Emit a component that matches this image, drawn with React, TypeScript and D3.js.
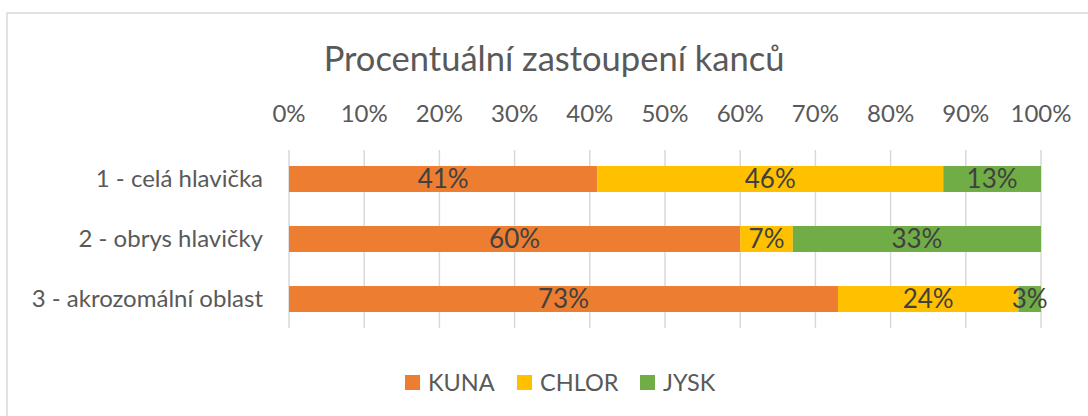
import React from 'react';
import * as d3 from 'd3';

const categories = ['1 - celá hlavička', '2 - obrys hlavičky', '3 - akrozomální oblast'];
const seriesNames = ['KUNA', 'CHLOR', 'JYSK'];
const kuna = [41, 60, 73];
const chlor = [46, 7, 24];
const jysk = [13, 33, 3];
const tickValues = [0, 10, 20, 30, 40, 50, 60, 70, 80, 90, 100];
const colors = ['#ED7D31', '#FFC000', '#70AD47'];

const W = 1088;
const H = 416;
const FONT = 'Lato, "Open Sans", sans-serif';

export default function App() {
  const x = d3.scaleLinear().domain([0, 100]).range([289, 1041]);
  const y = d3.scaleBand().domain(categories).range([149, 329]).paddingInner(0.567).paddingOuter(0.283);

  const rows = categories.map((c, i) => ({ cat: c, KUNA: kuna[i], CHLOR: chlor[i], JYSK: jysk[i] }));
  const stacked = d3.stack<any>().keys(seriesNames)(rows);

  const legendX = [405, 517, 640];

  return (
    <svg width={W} height={H} style={{ position: 'absolute', left: 0, top: 0, background: '#fff' }} fontFamily={FONT}>
      <rect x={7} y={13} width={W + 10} height={H + 10} fill="#fff" stroke="#d9d9d9" strokeWidth={1.5} />
      <text x={554} y={71} textAnchor="middle" fontSize={34.5} fill="#595959">Procentuální zastoupení kanců</text>

      {tickValues.map(t => (
        <g key={t}>
          <line x1={x(t)} x2={x(t)} y1={150} y2={328} stroke="#d9d9d9" strokeWidth={1.5} />
          <text x={x(t)} y={122} textAnchor="middle" fontSize={24} fill="#595959">{t}%</text>
        </g>
      ))}

      {categories.map(c => (
        <text key={c} x={263} y={y(c)! + y.bandwidth() / 2} dy="0.35em" textAnchor="end" fontSize={24} fill="#595959">{c}</text>
      ))}

      {stacked.map((s, si) => (
        <g key={s.key}>
          {s.map((d, i) => (
            <g key={i}>
              <rect x={x(d[0])} y={y(categories[i])} width={x(d[1]) - x(d[0])} height={y.bandwidth()} fill={colors[si]} />
              <text x={(x(d[0]) + x(d[1])) / 2} y={y(categories[i])! + y.bandwidth() / 2} dy="0.35em" textAnchor="middle" fontSize={26} fill="#404040">
                {d[1] - d[0]}%
              </text>
            </g>
          ))}
        </g>
      ))}

      {seriesNames.map((n, i) => (
        <g key={n}>
          <rect x={legendX[i]} y={375} width={15} height={15} fill={colors[i]} />
          <text x={legendX[i] + 23} y={383} dy="0.36em" fontSize={23.5} fill="#595959">{n}</text>
        </g>
      ))}
    </svg>
  );
}
